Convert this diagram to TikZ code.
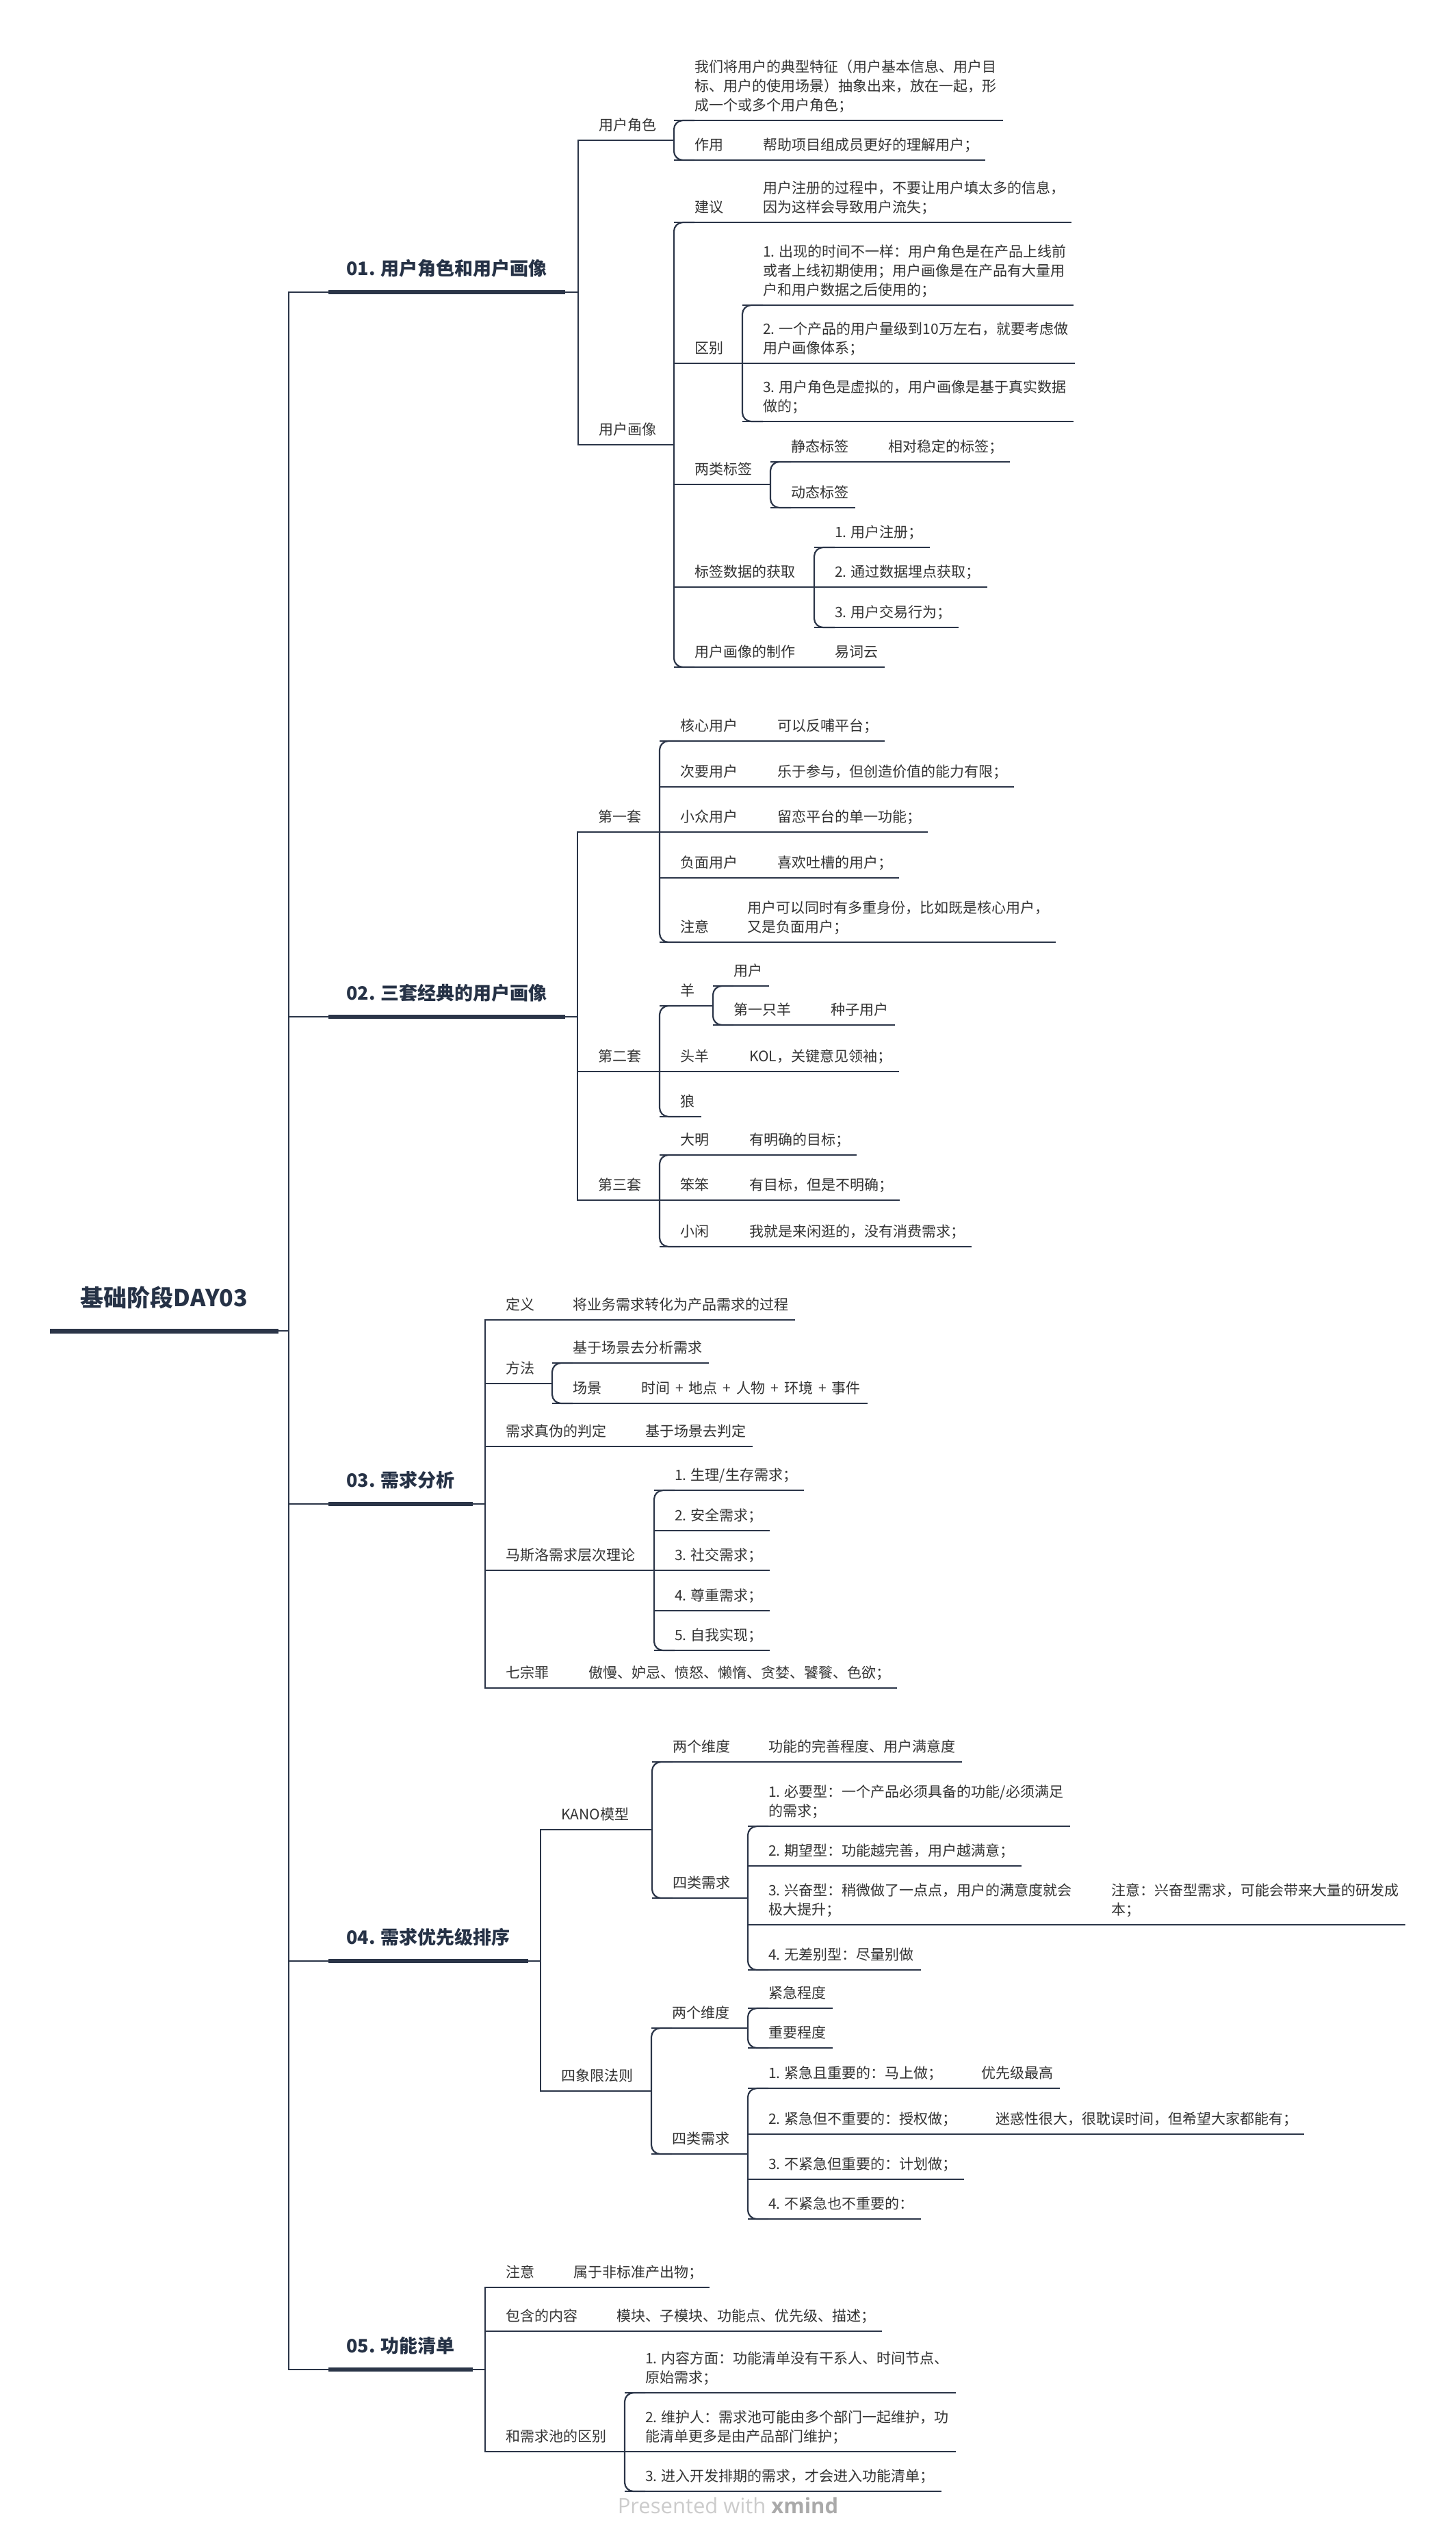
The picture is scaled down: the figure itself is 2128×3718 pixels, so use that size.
\documentclass[tikz,border=0pt]{standalone}
\usepackage{fontspec}
\setmainfont{Noto Sans CJK SC}
\newfontfamily\wmfont{Open Sans}
\usetikzlibrary{calc}
\definecolor{ln}{HTML}{2B3548}
\definecolor{tx}{HTML}{333333}
\definecolor{ttl}{HTML}{263246}
\definecolor{wm1}{HTML}{CCCCCC}
\definecolor{wm2}{HTML}{AAAAAA}
\newcommand\myul[1]{\draw[ul] ([xshift=-30pt]#1.south west) -- ([xshift=10pt]#1.south east);}
\newcommand\mylink[2]{\draw[ul] ([xshift=10pt]#1.south east) -- ([xshift=-30pt]#2.south west);}
\newcommand\myfan[4]{%
  \draw[#4] (#2.south west) -- ([xshift=-30pt]#2.south west) -- ([xshift=-30pt]#3.south west) -- (#3.south west);%
  \coordinate (#1v) at ([xshift=-30pt]#2.south west);%
  \draw[ul] ([xshift=10pt]#1.south east) -- (#1v |- #1.south);}
\newcommand\pl{\hspace{8pt}+\hspace{8pt}}
\begin{document}
\begin{tikzpicture}[x=1pt,y=-1pt,
  tp/.style={anchor=south west, inner xsep=0pt, inner ysep=5.6pt, font=\fontsize{21}{28}\selectfont, text=tx, align=left, execute at end node={\strut}},
  l1/.style={anchor=south west, inner xsep=0pt, inner ysep=14.4pt, font=\fontsize{27}{32}\selectfont\bfseries, text=ttl, execute at end node={\strut}},
  ul/.style={draw=ln, line width=2.2pt},
  sq/.style={draw=ln, line width=2.2pt},
  cn/.style={draw=ln, line width=2.2pt, rounded corners=13pt},
  bar/.style={draw=ln, line width=5.5pt},
  rbar/.style={draw=ln, line width=7pt}]
\useasboundingbox (0,0) rectangle (2128,3718);
\fill[white] (0,0) rectangle (2128,3718);

% root and level 1
\node[anchor=south, inner xsep=0pt, inner ysep=23pt, font=\fontsize{34}{40}\selectfont\bfseries, text=ttl, execute at end node={\strut}] (root) at (240,1945) {基础阶段DAY03};
\coordinate (tk) at (422,0);
\node[l1] (t1) at (506,427) {01. 用户角色和用户画像};
\node[l1] (t2) at (506,1486) {02. 三套经典的用户画像};
\node[l1] (t3) at (506,2198) {03. 需求分析};
\node[l1] (t4) at (506,2866) {04. 需求优先级排序};
\node[l1] (t5) at (506,3463) {05. 功能清单};

% section 01
\node[tp] (a1) at (875,205) {用户角色};
\node[tp] (a11) at (1015,176) {我们将用户的典型特征（用户基本信息、用户目\\标、用户的使用场景）抽象出来，放在一起，形\\成一个或多个用户角色；};
\node[tp] (a12) at (1015,234) {作用};
\node[tp] (a121) at (1115,234) {帮助项目组成员更好的理解用户；};
\node[tp] (a2) at (875,650) {用户画像};
\node[tp] (a21) at (1015,325) {建议};
\node[tp] (a211) at (1115,325) {用户注册的过程中，不要让用户填太多的信息，\\因为这样会导致用户流失；};
\node[tp] (a22) at (1015,531) {区别};
\node[tp] (a221) at (1115,446) {1. 出现的时间不一样：用户角色是在产品上线前\\或者上线初期使用；用户画像是在产品有大量用\\户和用户数据之后使用的；};
\node[tp] (a222) at (1115,531) {2. 一个产品的用户量级到10万左右，就要考虑做\\用户画像体系；};
\node[tp] (a223) at (1115,616) {3. 用户角色是虚拟的，用户画像是基于真实数据\\做的；};
\node[tp] (a23) at (1015,708) {两类标签};
\node[tp] (a231) at (1156,675) {静态标签};
\node[tp] (a2311) at (1298,675) {相对稳定的标签；};
\node[tp] (a232) at (1156,742) {动态标签};
\node[tp] (a24) at (1015,858) {标签数据的获取};
\node[tp] (a241) at (1220,800) {1. 用户注册；};
\node[tp] (a242) at (1220,858) {2. 通过数据埋点获取；};
\node[tp] (a243) at (1220,917) {3. 用户交易行为；};
\node[tp] (a25) at (1015,975) {用户画像的制作};
\node[tp] (a251) at (1220,975) {易词云};

% section 02
\node[tp] (b1) at (874,1216) {第一套};
\node[tp] (b11) at (994,1083) {核心用户};
\node[tp] (b111) at (1136,1083) {可以反哺平台；};
\node[tp] (b12) at (994,1150) {次要用户};
\node[tp] (b121) at (1136,1150) {乐于参与，但创造价值的能力有限；};
\node[tp] (b13) at (994,1216) {小众用户};
\node[tp] (b131) at (1136,1216) {留恋平台的单一功能；};
\node[tp] (b14) at (994,1283) {负面用户};
\node[tp] (b141) at (1136,1283) {喜欢吐槽的用户；};
\node[tp] (b15) at (994,1377) {注意};
\node[tp] (b151) at (1092,1377) {用户可以同时有多重身份，比如既是核心用户，\\又是负面用户；};
\node[tp] (b2) at (874,1566) {第二套};
\node[tp] (b21) at (994,1470) {羊};
\node[tp] (b211) at (1072,1441) {用户};
\node[tp] (b212) at (1072,1498) {第一只羊};
\node[tp] (b2121) at (1214,1498) {种子用户};
\node[tp] (b22) at (994,1566) {头羊};
\node[tp] (b221) at (1095,1566) {KOL，关键意见领袖；};
\node[tp] (b23) at (994,1632) {狼};
\node[tp] (b3) at (874,1754) {第三套};
\node[tp] (b31) at (994,1688) {大明};
\node[tp] (b311) at (1095,1688) {有明确的目标；};
\node[tp] (b32) at (994,1754) {笨笨};
\node[tp] (b321) at (1095,1754) {有目标，但是不明确；};
\node[tp] (b33) at (994,1822) {小闲};
\node[tp] (b331) at (1095,1822) {我就是来闲逛的，没有消费需求；};

% section 03
\node[tp] (c1) at (739,1929) {定义};
\node[tp] (c11) at (837,1929) {将业务需求转化为产品需求的过程};
\node[tp] (c2) at (739,2022) {方法};
\node[tp] (c21) at (837,1992) {基于场景去分析需求};
\node[tp] (c22) at (837,2051) {场景};
\node[tp] (c221) at (937,2051) {时间\pl 地点\pl 人物\pl 环境\pl 事件};
\node[tp] (c3) at (739,2114) {需求真伪的判定};
\node[tp] (c31) at (943,2114) {基于场景去判定};
\node[tp] (c4) at (739,2295) {马斯洛需求层次理论};
\node[tp] (c41) at (986,2178) {1. 生理/生存需求；};
\node[tp] (c42) at (986,2237) {2. 安全需求；};
\node[tp] (c43) at (986,2295) {3. 社交需求；};
\node[tp] (c44) at (986,2354) {4. 尊重需求；};
\node[tp] (c45) at (986,2412) {5. 自我实现；};
\node[tp] (c5) at (739,2467) {七宗罪};
\node[tp] (c51) at (860,2467) {傲慢、妒忌、愤怒、懒惰、贪婪、饕餮、色欲；};

% section 04
\node[tp] (d1) at (820,2674) {KANO模型};
\node[tp] (d11) at (983,2575) {两个维度};
\node[tp] (d111) at (1123,2575) {功能的完善程度、用户满意度};
\node[tp] (d12) at (983,2774) {四类需求};
\node[tp] (d121) at (1123,2669) {1. 必要型：一个产品必须具备的功能/必须满足\\的需求；};
\node[tp] (d122) at (1123,2727) {2. 期望型：功能越完善，用户越满意；};
\node[tp] (d123) at (1123,2813) {3. 兴奋型：稍微做了一点点，用户的满意度就会\\极大提升；};
\node[tp] (d1231) at (1624,2813) {注意：兴奋型需求，可能会带来大量的研发成\\本；};
\node[tp] (d124) at (1123,2879) {4. 无差别型：尽量别做};
\node[tp] (d2) at (820,3056) {四象限法则};
\node[tp] (d21) at (982,2964) {两个维度};
\node[tp] (d211) at (1123,2935) {紧急程度};
\node[tp] (d212) at (1123,2993) {重要程度};
\node[tp] (d22) at (982,3148) {四类需求};
\node[tp] (d221) at (1123,3052) {1. 紧急且重要的：马上做；};
\node[tp] (d2211) at (1434,3052) {优先级最高};
\node[tp] (d222) at (1123,3119) {2. 紧急但不重要的：授权做；};
\node[tp] (d2221) at (1455,3119) {迷惑性很大，很耽误时间，但希望大家都能有；};
\node[tp] (d223) at (1123,3185) {3. 不紧急但重要的：计划做；};
\node[tp] (d224) at (1123,3243) {4. 不紧急也不重要的：};

% section 05
\node[tp] (e1) at (739,3343) {注意};
\node[tp] (e11) at (838,3343) {属于非标准产出物；};
\node[tp] (e2) at (739,3407) {包含的内容};
\node[tp] (e21) at (901,3407) {模块、子模块、功能点、优先级、描述；};
\node[tp] (e3) at (739,3583) {和需求池的区别};
\node[tp] (e31) at (943,3497) {1. 内容方面：功能清单没有干系人、时间节点、\\原始需求；};
\node[tp] (e32) at (943,3583) {2. 维护人：需求池可能由多个部门一起维护，功\\能清单更多是由产品部门维护；};
\node[tp] (e33) at (943,3641) {3. 进入开发排期的需求，才会进入功能清单；};

\node[font=\wmfont\fontsize{31}{36}\selectfont, text=wm1, inner sep=0pt] (wm) at (1064,3662) {Presented with \textcolor{wm2}{\bfseries xmind}};

% root bar and trunk
\draw[rbar] ([xshift=-45pt]root.south west) -- ([xshift=45pt]root.south east);
\draw[ul] ([xshift=45pt]root.south east) -- (tk |- root.south);
\draw[ul] ([xshift=-26pt]t1.south west) -- (tk |- t1.south) -- (tk |- t5.south) -- ([xshift=-26pt]t5.south west);
\draw[ul] (tk |- t2.south) -- ([xshift=-26pt]t2.south west);
\draw[ul] (tk |- t3.south) -- ([xshift=-26pt]t3.south west);
\draw[ul] (tk |- t4.south) -- ([xshift=-26pt]t4.south west);
\myfan{t1}{a1}{a2}{sq}
\myfan{t2}{b1}{b3}{sq}
\myfan{t3}{c1}{c5}{sq}
\myfan{t4}{d1}{d2}{sq}
\myfan{t5}{e1}{e3}{sq}
\foreach \t in {t1,t2,t3,t4,t5}{\draw[bar] ([xshift=-26pt]\t.south west) -- ([xshift=26pt]\t.south east);}

% section 01 lines
\foreach \n in {a1,a11,a12,a121,a2,a21,a211,a22,a221,a222,a223,a23,a231,a2311,a232,a24,a241,a242,a243,a25,a251}{\myul{\n}}
\myfan{a1}{a11}{a12}{cn}
\mylink{a12}{a121}
\myfan{a2}{a21}{a25}{cn}
\mylink{a21}{a211}
\myfan{a22}{a221}{a223}{cn}
\myfan{a23}{a231}{a232}{cn}
\mylink{a231}{a2311}
\myfan{a24}{a241}{a243}{cn}
\mylink{a25}{a251}

% section 02 lines
\foreach \n in {b1,b11,b111,b12,b121,b13,b131,b14,b141,b15,b151,b2,b21,b211,b212,b2121,b22,b221,b23,b3,b31,b311,b32,b321,b33,b331}{\myul{\n}}
\myfan{b1}{b11}{b15}{cn}
\mylink{b11}{b111}
\mylink{b12}{b121}
\mylink{b13}{b131}
\mylink{b14}{b141}
\mylink{b15}{b151}
\myfan{b2}{b21}{b23}{cn}
\myfan{b21}{b211}{b212}{cn}
\mylink{b212}{b2121}
\mylink{b22}{b221}
\myfan{b3}{b31}{b33}{cn}
\mylink{b31}{b311}
\mylink{b32}{b321}
\mylink{b33}{b331}

% section 03 lines
\foreach \n in {c1,c11,c2,c21,c22,c221,c3,c31,c4,c41,c42,c43,c44,c45,c5,c51}{\myul{\n}}
\mylink{c1}{c11}
\myfan{c2}{c21}{c22}{cn}
\mylink{c22}{c221}
\mylink{c3}{c31}
\myfan{c4}{c41}{c45}{cn}
\mylink{c5}{c51}

% section 04 lines
\foreach \n in {d1,d11,d111,d12,d121,d122,d123,d1231,d124,d2,d21,d211,d212,d22,d221,d2211,d222,d2221,d223,d224}{\myul{\n}}
\myfan{d1}{d11}{d12}{cn}
\mylink{d11}{d111}
\myfan{d12}{d121}{d124}{cn}
\mylink{d123}{d1231}
\myfan{d2}{d21}{d22}{cn}
\myfan{d21}{d211}{d212}{cn}
\myfan{d22}{d221}{d224}{cn}
\mylink{d221}{d2211}
\mylink{d222}{d2221}

% section 05 lines
\foreach \n in {e1,e11,e2,e21,e3,e31,e32,e33}{\myul{\n}}
\mylink{e1}{e11}
\mylink{e2}{e21}
\myfan{e3}{e31}{e33}{cn}
\end{tikzpicture}
\end{document}
